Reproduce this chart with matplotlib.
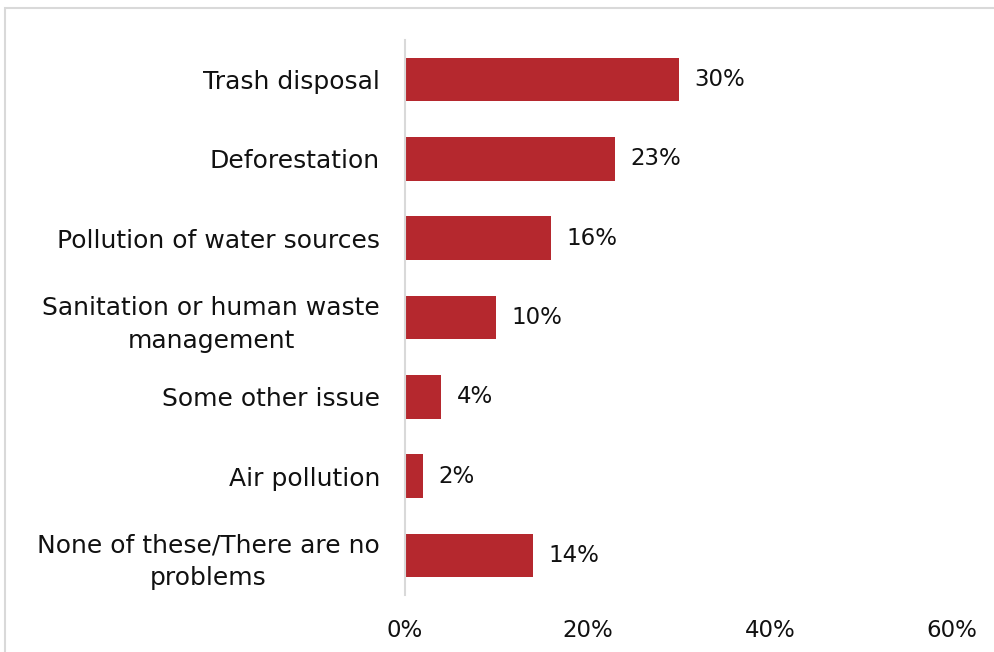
import matplotlib.pyplot as plt
from matplotlib.patches import Rectangle

# Data
categories = [
    "Trash disposal",
    "Deforestation",
    "Pollution of water sources",
    "Sanitation or human waste\nmanagement",
    "Some other issue",
    "Air pollution",
    "None of these/There are no\nproblems",
]
values = [0.30, 0.23, 0.16, 0.10, 0.04, 0.02, 0.14]
value_labels = ["30%", "23%", "16%", "10%", "4%", "2%", "14%"]
xticks = [0, 0.2, 0.4, 0.6]
xtick_labels = ["0%", "20%", "40%", "60%"]

bar_color = "#B5282E"

plt.rcParams["font.family"] = ["DejaVu Sans"]

fig = plt.figure(figsize=(9.95, 6.52), dpi=100)
ax = fig.add_axes([0.407, 0.0874, 0.55, 0.8513])

# outer chart border (light gray)
fig.patches.append(Rectangle((5 / 995, -0.05), 1.0, 1.05 - 8 / 652,
                             transform=fig.transFigure, fill=False,
                             edgecolor="#D9D9D9", linewidth=1.5))

y = list(range(len(categories)))
ax.barh(y, values, height=0.55, color=bar_color)

for yi, v, lab in zip(y, values, value_labels):
    ax.text(v + 0.017, yi, lab, va="center", ha="left", fontsize=16.5, color="#111111")

ax.set_yticks(y)
ax.set_yticklabels(categories, fontsize=18, color="#111111", linespacing=1.45)
for t in ax.get_yticklabels():
    t.set_horizontalalignment("right")
    t.set_multialignment("center")
ax.tick_params(axis="y", length=0, pad=18)

ax.set_xticks(xticks)
ax.set_xticklabels(xtick_labels, fontsize=16.5, color="#111111")
ax.tick_params(axis="x", length=0, pad=17)

ax.set_xlim(0, 0.6)
ax.set_ylim(len(categories) - 0.5, -0.5)

for side in ["top", "right", "bottom"]:
    ax.spines[side].set_visible(False)
ax.spines["left"].set_color("#D9D9D9")
ax.spines["left"].set_linewidth(1.5)

fig.savefig("out.png", dpi=100)
